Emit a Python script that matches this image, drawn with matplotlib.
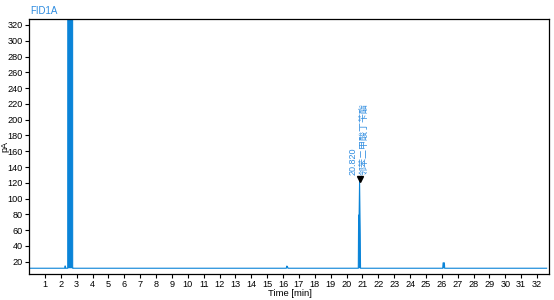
import matplotlib
matplotlib.use("Agg")
import matplotlib.pyplot as plt

# chromatogram trace (time in min, signal in pA)
time_min = [0.0, 2.25, 2.27, 2.29, 2.31, 2.44, 2.45, 2.525, 2.53, 2.535,
            2.595, 2.60, 2.605, 2.74, 2.75, 2.76, 16.20, 16.24, 16.28, 16.32,
            20.74, 20.76, 20.78, 20.82, 20.86, 20.88, 26.06, 26.08, 26.16,
            26.18, 32.6]
signal_pa = [11.7, 11.7, 14.5, 14.5, 11.7, 11.7, 1000, 1000, 84, 1000,
             1000, 76, 1000, 1000, 11.7, 11.7, 11.7, 14.5, 13.5, 11.7,
             11.7, 79, 60, 122, 55, 11.7, 11.7, 18.5, 18.5,
             11.7, 11.7]
baseline = 11.7

peak_time = 20.82
peak_height = 122
peak_rt_label = "20.820"
peak_name = "邻苯二甲酸丁苄酯"

x_ticks = list(range(1, 33))
y_ticks = list(range(20, 321, 20))

line_color = "#0A84D8"
text_color = "#2E8CE0"

plt.rcParams['font.family'] = ['Liberation Sans', 'DejaVu Sans']

fig = plt.figure(figsize=(5.54, 3.0), dpi=100)
ax = fig.add_axes([29 / 554, 1 - 274 / 300, 520 / 554, 255 / 300])

ax.fill_between(time_min, baseline, signal_pa, color=line_color, lw=0)
ax.plot(time_min, signal_pa, color=line_color, lw=0.8)

ax.set_xlim(0, 32.75)
ax.set_ylim(4.4, 327.6)
ax.set_xticks(x_ticks)
ax.set_yticks(y_ticks)
ax.tick_params(labelsize=6.6, length=3, width=0.8, pad=1.5)
for s in ax.spines.values():
    s.set_linewidth(0.9)

fig.text(290 / 554, 1 - 293.5 / 300, "Time [min]", fontsize=6.8,
         ha='center', va='center')
fig.text(5 / 554, 1 - 147 / 300, "pA", fontsize=6.5, rotation=90,
         ha='center', va='center')
fig.text(30 / 554, 1 - 11 / 300, "FID1A", color=text_color, fontsize=7,
         va='center', ha='left')

# peak marker and labels
ax.plot([peak_time], [peak_height + 3], marker='v', color='black', ms=4)
ax.text(peak_time - 0.38, peak_height + 8, peak_rt_label, rotation=90,
        fontsize=6.5, color=text_color, ha='center', va='bottom')
ax.text(peak_time + 0.3, peak_height + 8, peak_name, rotation=90,
        fontsize=6.5, color=text_color, ha='center', va='bottom',
        family=['Noto Sans CJK SC', 'DejaVu Sans'])

fig.savefig("out.png", dpi=100)
